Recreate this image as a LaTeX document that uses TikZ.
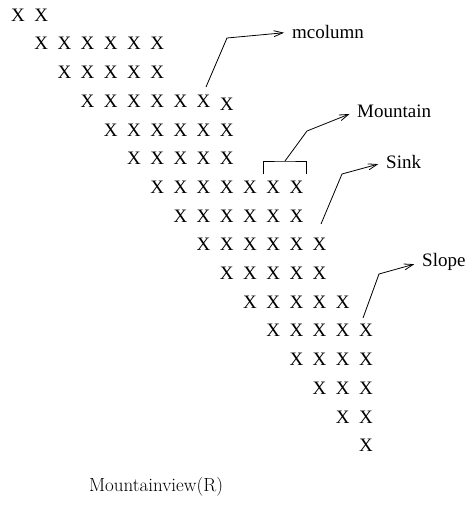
\documentclass[tikz,border=0pt]{standalone}
\usepackage{fontspec}
\newfontfamily\timesfont{Liberation Serif}
\usetikzlibrary{arrows.meta}
\begin{document}
\begin{tikzpicture}[x=1pt,y=-1pt,
  cell/.style={font=\timesfont\fontsize{19}{19}\selectfont, inner sep=0pt, anchor=center},
  tag/.style={font=\timesfont\fontsize{19}{19}\selectfont, inner sep=0pt, anchor=west},
  leader/.style={line width=0.8pt},
  pointer/.style={line width=0.8pt, shorten >=8pt,
    -{Straight Barb[length=9pt,width=6pt,line width=0.8pt]}}]
\useasboundingbox (0,0) rectangle (464,505);
% rows of the mountain: row / first column / last column
\foreach \r/\a/\b in {1/0/1, 2/1/6, 3/2/6, 4/3/8, 5/4/9, 6/5/9, 7/6/12,
    8/7/12, 9/8/13, 10/9/13, 11/10/14, 12/11/15, 13/12/15, 14/13/15,
    15/14/15, 16/15/15}{
  \foreach \c in {\a,...,\b}{
    \node[cell] (x\r-\c) at ({18+23.2*\c},{15+28.7*(\r-1)}) {X};
  }
}
% the dropped column on row 4
\node[cell] (x4-9) at ({18+23.2*9},104) {X};

% labels
\node[tag] (mcol) at (292,32) {mcolumn};
\node[tag] (mount) at (357,111) {Mountain};
\node[tag] (sink) at (386,162) {Sink};
\node[tag] (slope) at (422,262) {Slope};
\node[font=\fontsize{19}{19}\selectfont, inner sep=0pt] (title) at (156,487) {Mountainview(R)};

% leader bends and feet
\coordinate (m0) at (206,87);
\coordinate (m1) at (227,38);
\coordinate (bl) at (263,174);
\coordinate (br) at (306,174);
\coordinate (mt) at (285,161);
\coordinate (n1) at (307,131);
\coordinate (s0) at (321,224);
\coordinate (s1) at (342,174);
\coordinate (l0) at (363,318);
\coordinate (l1) at (379,274);

\draw[pointer] (m0) -- (m1) -- (mcol.west);
\draw[leader] (bl) |- (mt) -| (br);
\draw[pointer] (mt) -- (n1) -- (mount.west);
\draw[pointer] (s0) -- (s1) -- (sink.west);
\draw[pointer] (l0) -- (l1) -- (slope.west);
\end{tikzpicture}
\end{document}
